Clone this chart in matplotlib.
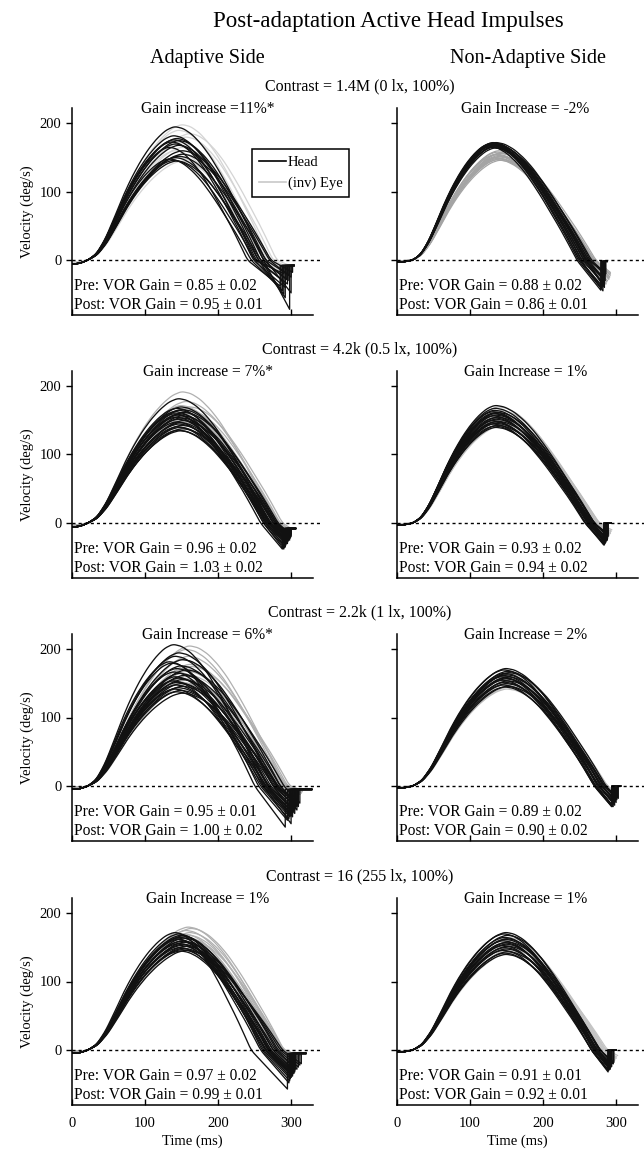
import numpy as np
import matplotlib
matplotlib.use("Agg")
import matplotlib.pyplot as plt
from matplotlib.lines import Line2D

plt.rcParams['font.family'] = ['Liberation Serif', 'DejaVu Serif']

# ---------------- text content ----------------
SUPTITLE = "Post-adaptation Active Head Impulses"
SIDE_TITLES = ["Adaptive Side", "Non-Adaptive Side"]
CONTRASTS = ["Contrast = 1.4M (0 lx, 100%)", "Contrast = 4.2k (0.5 lx, 100%)",
             "Contrast = 2.2k (1 lx, 100%)", "Contrast = 16 (255 lx, 100%)"]
GAIN_LEFT = ["Gain increase =11%*", "Gain increase = 7%*", "Gain Increase = 6%*", "Gain Increase = 1%"]
GAIN_RIGHT = ["Gain Increase = -2%", "Gain Increase = 1%", "Gain Increase = 2%", "Gain Increase = 1%"]
PRE_LEFT = ["0.85 \u00b1 0.02", "0.96 \u00b1 0.02", "0.95 \u00b1 0.01", "0.97 \u00b1 0.02"]
POST_LEFT = ["0.95 \u00b1 0.01", "1.03 \u00b1 0.02", "1.00 \u00b1 0.02", "0.99 \u00b1 0.01"]
PRE_RIGHT = ["0.88 \u00b1 0.02", "0.93 \u00b1 0.02", "0.89 \u00b1 0.02", "0.91 \u00b1 0.01"]
POST_RIGHT = ["0.86 \u00b1 0.01", "0.94 \u00b1 0.02", "0.90 \u00b1 0.02", "0.92 \u00b1 0.01"]
X_TICKS = [0, 100, 200, 300]
Y_TICKS = [0, 100, 200]

# ---------------- trace shape (normalised) ----------------
RISE_U = [0, .1, .2, .3, .4, .5, .6, .7, .8, .9, 1.0]
RISE_F = [0, .05, .16, .31, .47, .61, .73, .83, .91, .97, 1.0]
FALL_U = [0, .1, .2, .3, .4, .5, .6, .7, .8, .9, 1.0]
FALL_F = [1.0, .985, .94, .87, .78, .67, .55, .42, .29, .15, 0]

# ---------------- per-trace values: [peak, t_peak, t_zero, t_end, v_end] ----------------
HEAD_A1 = [[195,140,262,298,-72],[182,138,255,292,-55],[178,142,258,290,-50],[176,138,250,288,-45],
           [173,135,248,292,-40],[170,140,252,295,-35],[168,145,262,296,-30],[165,132,240,285,-38],
           [155,150,270,300,-25],[152,145,265,297,-22],[150,140,255,288,-30],[148,132,245,286,-42],
           [146,138,250,290,-20],[145,142,258,294,-28],[175,145,265,300,-48],[160,150,272,302,-18]]
EYE_A1 = [[198,150,270,292,-15],[190,145,265,290,-20],[180,155,275,295,-10],[172,148,262,288,-25],
          [165,150,268,292,-18],[160,140,258,286,-22],[155,152,272,294,-12],[150,145,262,290,-20],
          [185,160,280,298,-8],[145,150,265,290,-15]]
HEAD_B1 = [[172,130,258,284,-40],[171,128,252,282,-45],[170,132,262,285,-30],[170,126,248,280,-42],
           [169,130,255,283,-35],[168,134,266,286,-20],[168,128,250,281,-38],[167,132,260,284,-28],
           [166,126,246,279,-44],[165,130,256,283,-25],[172,134,264,285,-22],[170,129,253,282,-33],
           [166,131,258,284,-30],[169,127,250,281,-40],[164,133,262,285,-18],[171,131,259,283,-36]]
EYE_B1 = [[160,138,262,288,-30],[158,136,265,290,-28],[156,140,268,291,-25],[155,135,260,287,-32],
          [153,138,266,289,-22],[152,140,270,292,-20],[150,134,258,286,-34],[149,137,264,290,-26],
          [148,139,268,291,-24],[147,136,262,288,-30],[157,141,272,292,-18],[154,133,256,286,-35],
          [151,138,265,290,-27],[146,140,270,292,-22]]
HEAD_A2 = [[182,145,270,295,-30],[170,148,275,298,-25],[168,142,265,292,-35],[166,150,280,300,-20],
           [165,145,270,295,-28],[163,140,262,290,-38],[162,152,282,300,-18],[160,146,272,296,-26],
           [158,143,266,293,-32],[157,150,278,299,-22],[155,141,262,291,-36],[154,148,275,297,-24],
           [152,144,268,294,-30],[150,151,280,300,-16],[148,142,264,292,-34],[147,147,272,296,-20],
           [145,145,270,295,-28],[143,149,276,298,-22],[141,143,266,293,-30],[140,146,272,296,-26],
           [138,150,278,299,-18],[136,144,268,294,-24],[135,147,270,296,-20],[160,139,258,288,-38]]
EYE_A2 = [[192,150,278,298,-20],[178,155,282,300,-15],[172,148,275,296,-22],[168,152,280,298,-18],
          [165,158,285,300,-12],[162,150,276,296,-25],[160,154,282,299,-15],[158,147,272,294,-28],
          [155,156,284,300,-10],[152,150,276,297,-20],[150,153,280,298,-16],[148,149,274,295,-24],
          [145,155,282,299,-12],[170,160,288,300,-8]]
HEAD_B2 = [[172,134,268,288,-25],[165,132,264,286,-28],[163,130,260,284,-32],[162,136,270,289,-20],
           [160,132,262,285,-30],[158,134,266,287,-24],[157,130,258,283,-32],[155,136,270,289,-18],
           [154,132,263,286,-26],[152,134,266,287,-22],[150,130,258,284,-30],[149,136,270,289,-16],
           [148,132,262,285,-28],[146,134,265,287,-22],[145,130,257,283,-30],[143,136,268,288,-18],
           [142,132,261,285,-26],[140,134,264,287,-20],[168,133,265,287,-26],[161,131,261,285,-28]]
EYE_B2 = [[170,138,270,290,-18],[165,140,274,292,-15],[160,136,268,289,-20],[156,142,276,293,-12],
          [152,138,270,290,-18],[150,140,274,292,-14],[148,136,268,289,-22],[146,142,277,294,-10],
          [144,138,271,291,-16],[142,140,273,292,-12],[158,139,272,291,-16],[154,137,269,290,-19]]
HEAD_A3 = [[207,138,262,300,-55],[195,145,275,305,-40],[190,140,268,302,-45],[185,150,285,310,-30],
           [180,135,255,295,-50],[176,148,280,308,-35],[172,142,268,302,-40],[170,155,290,312,-25],
           [167,138,260,298,-45],[165,146,275,305,-35],[162,152,285,310,-28],[160,140,265,300,-42],
           [158,145,272,304,-36],[156,150,282,308,-30],[154,137,258,297,-48],[152,143,268,302,-38],
           [150,148,278,306,-32],[148,141,264,299,-44],[146,150,280,308,-28],[144,144,270,303,-36],
           [142,139,262,298,-42],[140,147,276,306,-30],[138,142,266,300,-40],[136,150,282,309,-26],
           [182,132,250,292,-60]]
EYE_A3 = [[205,160,290,312,-12],[200,155,288,310,-15],[190,158,292,314,-10],[185,150,282,308,-18],
          [178,160,295,315,-8],[172,152,286,310,-14],[168,156,290,312,-12],[165,148,280,306,-20],
          [162,158,292,314,-10],[158,150,284,308,-16],[155,155,288,311,-12],[152,148,280,306,-18],
          [150,160,294,315,-8],[175,162,298,316,-6]]
HEAD_B3 = [[172,148,278,298,-28],[170,145,274,296,-30],[168,150,282,300,-24],[165,146,276,297,-26],
           [163,148,280,299,-22],[162,144,272,295,-30],[160,150,284,301,-20],[158,146,276,297,-26],
           [157,148,280,299,-22],[155,143,270,294,-30],[154,150,284,301,-18],[152,146,276,297,-24],
           [150,148,280,299,-20],[148,144,272,295,-28],[146,150,284,302,-16],[145,146,276,297,-22],
           [166,152,286,303,-18],[160,142,270,294,-30]]
EYE_B3 = [[165,150,285,300,-15],[160,148,282,298,-18],[156,152,288,302,-12],[152,148,282,299,-16],
          [150,150,286,300,-14],[148,146,280,297,-20],[145,152,288,302,-10],[142,149,284,300,-14],
          [158,147,280,298,-18],[154,151,286,301,-13]]
HEAD_A4 = [[172,140,245,295,-57],[170,145,260,298,-45],[168,148,268,302,-38],[167,150,275,305,-32],
           [165,146,265,300,-40],[164,152,280,308,-28],[162,144,262,299,-42],[160,150,272,304,-34],
           [159,147,268,302,-36],[158,153,282,310,-25],[156,145,264,300,-40],[155,150,275,305,-30],
           [153,148,270,303,-34],[152,154,285,312,-22],[150,146,266,301,-38],[149,151,278,306,-28],
           [147,149,272,304,-32],[146,155,288,314,-20],[145,147,270,302,-35],[163,142,258,297,-48]]
EYE_A4 = [[180,158,285,308,-12],[178,162,290,312,-8],[175,155,282,306,-15],[172,160,288,310,-10],
          [170,152,278,304,-18],[168,158,286,309,-12],[165,155,282,306,-15],[162,160,290,312,-8],
          [160,150,276,302,-20],[158,156,284,307,-14],[155,152,280,305,-16],[152,158,288,310,-10]]
HEAD_B4 = [[172,148,272,292,-28],[170,145,268,290,-30],[168,150,276,294,-24],[165,146,270,291,-28],
           [163,149,274,293,-25],[160,144,266,289,-32],[158,150,278,296,-20],[157,146,270,291,-28],
           [155,148,274,293,-24],[153,144,266,289,-30],[152,150,278,296,-20],[150,146,270,291,-26],
           [148,148,274,293,-22],[146,144,266,289,-30],[144,150,278,297,-18],[142,146,270,292,-24],
           [140,148,274,294,-20],[162,147,272,292,-26]]
EYE_B4 = [[165,150,282,298,-15],[160,152,285,300,-12],[156,148,280,296,-18],[152,152,286,300,-10],
          [150,150,282,298,-14],[148,154,288,302,-8],[145,150,282,298,-14],[142,152,285,300,-10],
          [158,149,281,297,-16],[154,151,284,299,-12]]

HEADS = [[HEAD_A1, HEAD_B1], [HEAD_A2, HEAD_B2], [HEAD_A3, HEAD_B3], [HEAD_A4, HEAD_B4]]
EYES = [[EYE_A1, EYE_B1], [EYE_A2, EYE_B2], [EYE_A3, EYE_B3], [EYE_A4, EYE_B4]]
# baseline before onset and the level traces jump back to after the impulse
START_LEVEL = [[-6, -3], [-6, -3], [-5, -3], [-5, -3]]
REST_LEVEL = [[-8, -2], [-8, 0], [-5, 0], [-5, 0]]
REST_END = [[304, 288], [306, 293], [328, 306], [320, 300]]
ONSET = 22

HEAD_COLOR = "#111111"
EYE_COLORS = [["#d4d4d4", "#a4a4a4"], ["#b0b0b0", "#bdbdbd"], ["#b0b0b0", "#bdbdbd"], ["#b0b0b0", "#c4c4c4"]]


def build(row, v0, rest=None, rest_end=None):
    peak, tp, tz, te, ve = row
    ru = np.array(RISE_U); rf = np.array(RISE_F)
    fu = np.array(FALL_U); ff = np.array(FALL_F)
    kt = np.concatenate([[0, ONSET * 0.5], ONSET + ru * (tp - ONSET), (tp + fu * (tz - tp))[1:], [te]])
    kv = np.concatenate([[v0, v0 * 0.8], peak * rf, (peak * ff)[1:], [ve]])
    t = np.arange(0, te + 0.01, 1.0)
    v = np.interp(t, kt, kv)
    k = 9
    pad = np.concatenate([np.full(k, v[0]), v, v[-1] + (v[-1] - v[-2]) * np.arange(1, k + 1)])
    vs = np.convolve(pad, np.ones(k) / k, mode="same")[k:-k]
    vs[-1] = ve
    if rest is not None:
        t = np.concatenate([t, [te, rest_end]])
        vs = np.concatenate([vs, [rest, rest]])
    return t, vs


W, H = 644, 1149
fig = plt.figure(figsize=(W / 100, H / 100), dpi=100)

YMIN, YMAX = -80, 222
XMIN, XMAX = 0, 330
col_x = [72, 397]
axw = 241
zeros_px = [260, 523, 786, 1050]
px_per_unit = 0.685
FS = 11.2

for r in range(4):
    z = zeros_px[r]
    top = z - YMAX * px_per_unit
    bot = z - YMIN * px_per_unit
    for c in range(2):
        ax = fig.add_axes([col_x[c] / W, 1 - bot / H, axw / W, (bot - top) / H])
        ax.set_xlim(XMIN, XMAX)
        ax.set_ylim(YMIN, YMAX)
        for row in EYES[r][c]:
            t, v = build(row, START_LEVEL[r][c] * 0.5)
            ax.plot(t, v, color=EYE_COLORS[r][c], lw=0.9)
        for row in HEADS[r][c]:
            t, v = build(row, START_LEVEL[r][c], REST_LEVEL[r][c], REST_END[r][c])
            ax.plot(t, v, color=HEAD_COLOR, lw=0.95)
        ax.plot([0, 340], [0, 0], color="black", lw=1.0, ls=(0, (2.2, 2.2)), clip_on=False, zorder=5)
        for s in ["top", "right"]:
            ax.spines[s].set_visible(False)
        for s in ["left", "bottom"]:
            ax.spines[s].set_linewidth(1.1)
        ax.set_xticks(X_TICKS)
        ax.set_yticks(Y_TICKS)
        ax.tick_params(axis="x", direction="in", length=4, width=1, labelsize=10.5, pad=9)
        ax.tick_params(axis="y", direction="out", length=4, width=1, labelsize=10.5)
        if r < 3:
            ax.set_xticklabels([])
        else:
            ax.set_xlabel("Time (ms)", fontsize=10.5, labelpad=3)
        if c == 1:
            ax.set_yticklabels([])
        else:
            ax.set_ylabel("Velocity (deg/s)", fontsize=10.5, labelpad=4)
        gtxt = GAIN_LEFT[r] if c == 0 else GAIN_RIGHT[r]
        ax.text(186 if c == 0 else 176, YMAX - 1, gtxt, ha="center", va="center", fontsize=FS)
        pre = PRE_LEFT[r] if c == 0 else PRE_RIGHT[r]
        post = POST_LEFT[r] if c == 0 else POST_RIGHT[r]
        ax.text(3, -38, "Pre: VOR Gain = " + pre, ha="left", va="center", fontsize=FS)
        ax.text(3, -65, "Post: VOR Gain = " + post, ha="left", va="center", fontsize=FS)
        if r == 0 and c == 0:
            handles = [Line2D([], [], color="black", lw=1.2), Line2D([], [], color="#c8c8c8", lw=1.2)]
            leg = fig.legend(handles, ["Head", "(inv) Eye"], loc="upper left",
                             bbox_to_anchor=(252 / W, 1 - 149 / H), frameon=True, fancybox=False,
                             edgecolor="black", framealpha=1, fontsize=10.5, handlelength=1.9,
                             handletextpad=0.1, borderpad=0.45, labelspacing=0.55, borderaxespad=0)
            leg.get_frame().set_linewidth(1.1)
    fig.text(360 / W, 1 - (z - 174) / H, CONTRASTS[r], ha="center", va="center", fontsize=11.5)

fig.text(388 / W, 1 - 21 / H, SUPTITLE, ha="center", va="center", fontsize=16.5)
fig.text(207 / W, 1 - 58 / H, SIDE_TITLES[0], ha="center", va="center", fontsize=14.5)
fig.text(528 / W, 1 - 58 / H, SIDE_TITLES[1], ha="center", va="center", fontsize=14.5)

fig.savefig("out.png", dpi=100)
